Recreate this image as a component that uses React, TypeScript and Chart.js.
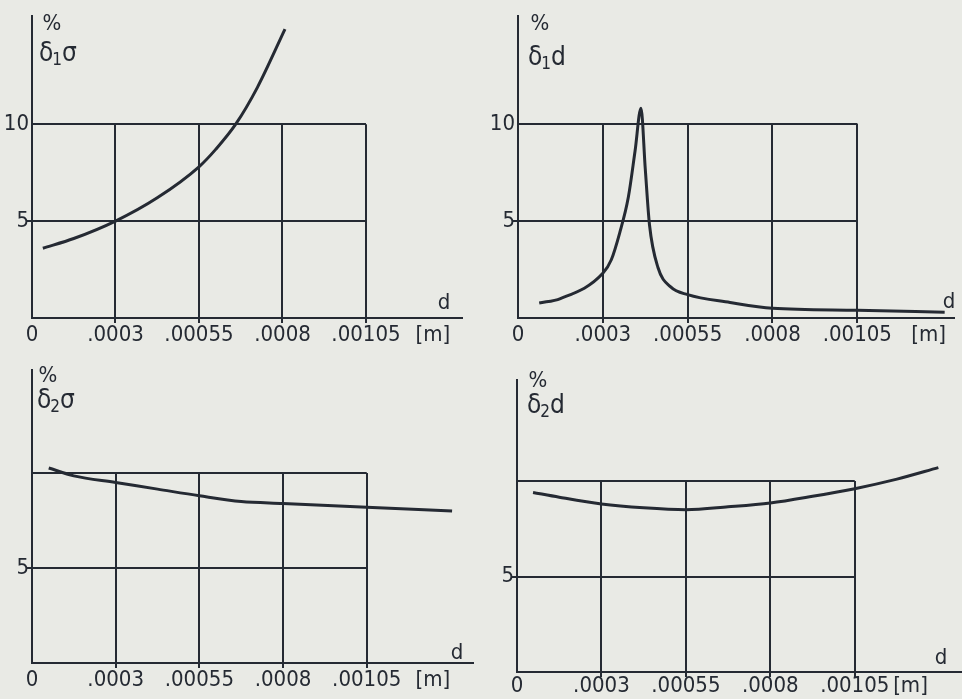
import React, { useEffect, useRef } from "react";
import { Chart, registerables } from "chart.js";

Chart.register(...registerables);

// ---- tick labels (grid positions 0..4 are evenly spaced on the drawing) ----
const xTickLabels = ["0", ".0003", ".00055", ".0008", ".00105"];
const unitLabel = "[m]";
const gridXPositions = [0, 1, 2, 3, 4];
const gridYLevels = [5, 10];
const yTicksTop = [5, 10];
const yTicksBottom = [5];

// ---- series (x in grid positions, y in %) ----
const d1sigmaX = [0.13, 0.5, 1, 1.5, 2, 2.2, 2.44, 2.7, 3.03];
const d1sigmaY = [3.6, 4.1, 5.0, 6.2, 7.8, 8.7, 10.0, 11.9, 14.9];

const d1dX = [0.25, 0.5, 1.0, 1.1, 1.2, 1.3, 1.38, 1.45, 1.5, 1.55, 1.65, 1.8, 2.0, 2.5, 3.0, 4.0, 5.03];
const d1dY = [0.77, 1.0, 2.3, 3.0, 4.4, 6.2, 8.6, 10.8, 7.7, 4.8, 2.6, 1.6, 1.2, 0.8, 0.5, 0.4, 0.3];

const d2sigmaX = [0.2, 0.5, 1, 1.5, 2, 2.5, 3, 4, 5.02];
const d2sigmaY = [10.26, 9.85, 9.5, 9.15, 8.8, 8.5, 8.4, 8.2, 8.0];

const d2dX = [0.19, 0.5, 1, 1.5, 2, 2.5, 3, 3.5, 4, 4.5, 4.99];
const d2dY = [9.4, 9.15, 8.8, 8.6, 8.5, 8.65, 8.85, 9.2, 9.6, 10.1, 10.7];

const INK = "#252a33";
const BG = "#e9eae5";
const FONT = "'Liberation Sans Narrow', 'DejaVu Sans Condensed', 'DejaVu Sans', sans-serif";

type PanelCfg = {
  id: string;
  left: number;
  top: number;
  w: number;
  h: number;
  area: { l: number; t: number; r: number; b: number };
  xMax: number;
  yMax: number;
  yTicks: number[];
  unitAt: number;
  xs: number[];
  ys: number[];
  sub: string;
  last: string;
  pct: [number, number];
  sym: [number, number];
  dPos: [number, number];
  xPad: number;
};

const panels: PanelCfg[] = [
  {
    id: "d1s", left: 0, top: 0, w: 481, h: 350,
    area: { l: 32, t: 16, r: 462, b: 318 }, xMax: 5.15, yMax: 15.57,
    yTicks: yTicksTop, unitAt: 4.8, xs: d1sigmaX, ys: d1sigmaY,
    sub: "1", last: "σ", pct: [52, 24], sym: [39, 54], dPos: [444, 303], xPad: 4,
  },
  {
    id: "d1d", left: 481, top: 0, w: 481, h: 350,
    area: { l: 37, t: 15, r: 473, b: 318 }, xMax: 5.14, yMax: 15.54,
    yTicks: yTicksTop, unitAt: 4.84, xs: d1dX, ys: d1dY,
    sub: "1", last: "d", pct: [59, 24], sym: [47, 58], dPos: [468, 302], xPad: 4,
  },
  {
    id: "d2s", left: 0, top: 345, w: 481, h: 354,
    area: { l: 32, t: 25, r: 473, b: 318 }, xMax: 5.27, yMax: 15.42,
    yTicks: yTicksBottom, unitAt: 4.79, xs: d2sigmaX, ys: d2sigmaY,
    sub: "2", last: "σ", pct: [48, 31], sym: [37, 56], dPos: [457, 308], xPad: 4,
  },
  {
    id: "d2d", left: 481, top: 345, w: 481, h: 354,
    area: { l: 36, t: 35, r: 481, b: 327 }, xMax: 5.27, yMax: 15.29,
    yTicks: yTicksBottom, unitAt: 4.66, xs: d2dX, ys: d2dY,
    sub: "2", last: "d", pct: [57, 36], sym: [46, 61], dPos: [460, 313], xPad: 1,
  },
];

function makePlugin(cfg: PanelCfg) {
  return {
    id: "paperGrid_" + cfg.id,
    beforeDatasetsDraw(chart: any) {
      const ctx = chart.ctx as CanvasRenderingContext2D;
      const xs = chart.scales.x;
      const ys = chart.scales.y;
      const top = ys.getPixelForValue(gridYLevels[gridYLevels.length - 1]);
      const bottom = ys.getPixelForValue(0);
      const x0 = xs.getPixelForValue(0);
      const x4 = xs.getPixelForValue(gridXPositions[gridXPositions.length - 1]);
      ctx.save();
      ctx.strokeStyle = INK;
      ctx.lineWidth = 2;
      ctx.lineCap = "butt";
      ctx.beginPath();
      gridXPositions.slice(1).forEach((gx) => {
        const px = Math.round(xs.getPixelForValue(gx));
        ctx.moveTo(px, top);
        ctx.lineTo(px, bottom + 5);
      });
      gridYLevels.forEach((gy) => {
        const py = Math.round(ys.getPixelForValue(gy));
        ctx.moveTo(x0, py);
        ctx.lineTo(x4, py);
      });
      const p5 = Math.round(ys.getPixelForValue(5));
      ctx.moveTo(x0 - 5, p5);
      ctx.lineTo(x0, p5);
      ctx.stroke();

      ctx.fillStyle = INK;
      ctx.textBaseline = "middle";
      ctx.textAlign = "center";
      ctx.font = `22px ${FONT}`;
      ctx.fillText("%", cfg.pct[0], cfg.pct[1]);
      ctx.fillText("d", cfg.dPos[0], cfg.dPos[1]);

      ctx.textAlign = "left";
      ctx.font = `26px ${FONT}`;
      let sx = cfg.sym[0];
      ctx.fillText("δ", sx, cfg.sym[1]);
      sx += ctx.measureText("δ").width - 1;
      ctx.font = `17px ${FONT}`;
      ctx.fillText(cfg.sub, sx, cfg.sym[1] + 7);
      sx += ctx.measureText(cfg.sub).width;
      ctx.font = `26px ${FONT}`;
      ctx.fillText(cfg.last, sx, cfg.sym[1]);
      ctx.restore();
    },
  };
}

function Panel({ cfg }: { cfg: PanelCfg }) {
  const ref = useRef<HTMLCanvasElement | null>(null);
  useEffect(() => {
    if (!ref.current) return;
    const tickFont = { family: FONT, size: 22 };
    const chart = new Chart(ref.current, {
      type: "line",
      data: {
        datasets: [
          {
            data: cfg.xs.map((x, i) => ({ x, y: cfg.ys[i] })),
            borderColor: INK,
            borderWidth: 3,
            pointRadius: 0,
            cubicInterpolationMode: "monotone",
            fill: false,
            clip: false as any,
          },
        ],
      },
      options: {
        animation: false,
        responsive: false,
        events: [],
        layout: { padding: { left: 0, top: cfg.area.t, right: cfg.w - cfg.area.r, bottom: 0 } },
        plugins: { legend: { display: false }, tooltip: { enabled: false } },
        scales: {
          x: {
            type: "linear",
            min: 0,
            max: cfg.xMax,
            grid: { display: false, drawTicks: false },
            border: { display: true, color: INK, width: 2 },
            afterBuildTicks: (s: any) => {
              s.ticks = [...gridXPositions, cfg.unitAt].map((v) => ({ value: v }));
            },
            afterFit: (s: any) => {
              s.height = cfg.h - cfg.area.b;
            },
            ticks: {
              autoSkip: false,
              maxRotation: 0,
              padding: cfg.xPad,
              color: INK,
              font: tickFont,
              callback: (_v: any, i: number) => (i < xTickLabels.length ? xTickLabels[i] : unitLabel),
            },
          },
          y: {
            type: "linear",
            min: 0,
            max: cfg.yMax,
            grid: { display: false, drawTicks: false },
            border: { display: true, color: INK, width: 2 },
            afterBuildTicks: (s: any) => {
              s.ticks = cfg.yTicks.map((v) => ({ value: v }));
            },
            afterFit: (s: any) => {
              s.width = cfg.area.l;
            },
            ticks: {
              padding: 3,
              color: INK,
              font: tickFont,
              callback: (v: any) => String(v),
            },
          },
        },
      } as any,
      plugins: [makePlugin(cfg)],
    });
    return () => chart.destroy();
  }, [cfg]);
  return (
    <div style={{ position: "absolute", left: cfg.left, top: cfg.top, width: cfg.w, height: cfg.h }}>
      <canvas ref={ref} width={cfg.w} height={cfg.h} style={{ display: "block" }} />
    </div>
  );
}

export default function App() {
  return (
    <div
      style={{
        position: "absolute",
        left: 0,
        top: 0,
        width: 962,
        height: 699,
        background: BG,
        overflow: "hidden",
      }}
    >
      {panels.map((p) => (
        <Panel key={p.id} cfg={p} />
      ))}
    </div>
  );
}
